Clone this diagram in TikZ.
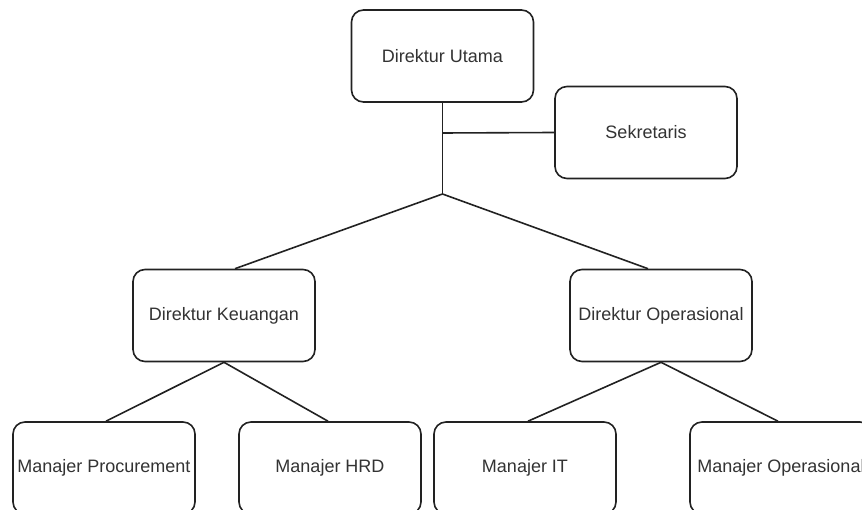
\documentclass[tikz,border=0pt]{standalone}
\usepackage{fontspec}
\setmainfont{Liberation Sans}
\definecolor{txt}{HTML}{333333}
\definecolor{ln}{HTML}{222222}
\begin{document}
\begin{tikzpicture}[x=1pt,y=-1pt,
  box/.style={draw=ln, line width=1.6pt, rounded corners=12pt, minimum width=182pt, minimum height=92pt, inner sep=0pt, text=txt, font=\fontsize{18}{21}\selectfont},
  conn/.style={draw=ln, line width=1.6pt}]
\useasboundingbox (0,0) rectangle (862,510);
\clip (0,0) rectangle (862,510);
\fill[white] (0,0) rectangle (862,510);
\node[box] (du) at (442.5,56) {Direktur Utama};
\node[box] (sek) at (646,132.5) {Sekretaris};
\node[box] (dk) at (224,315.5) {Direktur Keuangan};
\node[box] (do) at (661,315.5) {Direktur Operasional};
\node[box] (mp) at (104,468) {Manajer Procurement};
\node[box] (mh) at (330,468) {Manajer HRD};
\node[box] (mi) at (525,468) {Manajer IT};
\node[box] (mo) at (781,468) {Manajer Operasional};
\coordinate (j) at (442.5,133);
\coordinate (b) at (442.5,194);
\draw[conn] (du.south) -- (j) -- (b);
\draw[conn] (j) -- (sek.west);
\draw[conn] (b) -- ([xshift=11pt]dk.north);
\draw[conn] (b) -- ([xshift=-13pt]do.north);
\draw[conn] (dk.south) -- ([xshift=2pt]mp.north);
\draw[conn] (dk.south) -- ([xshift=-2pt]mh.north);
\draw[conn] (do.south) -- ([xshift=3pt]mi.north);
\draw[conn] (do.south) -- ([xshift=-3pt]mo.north);
\end{tikzpicture}
\end{document}
